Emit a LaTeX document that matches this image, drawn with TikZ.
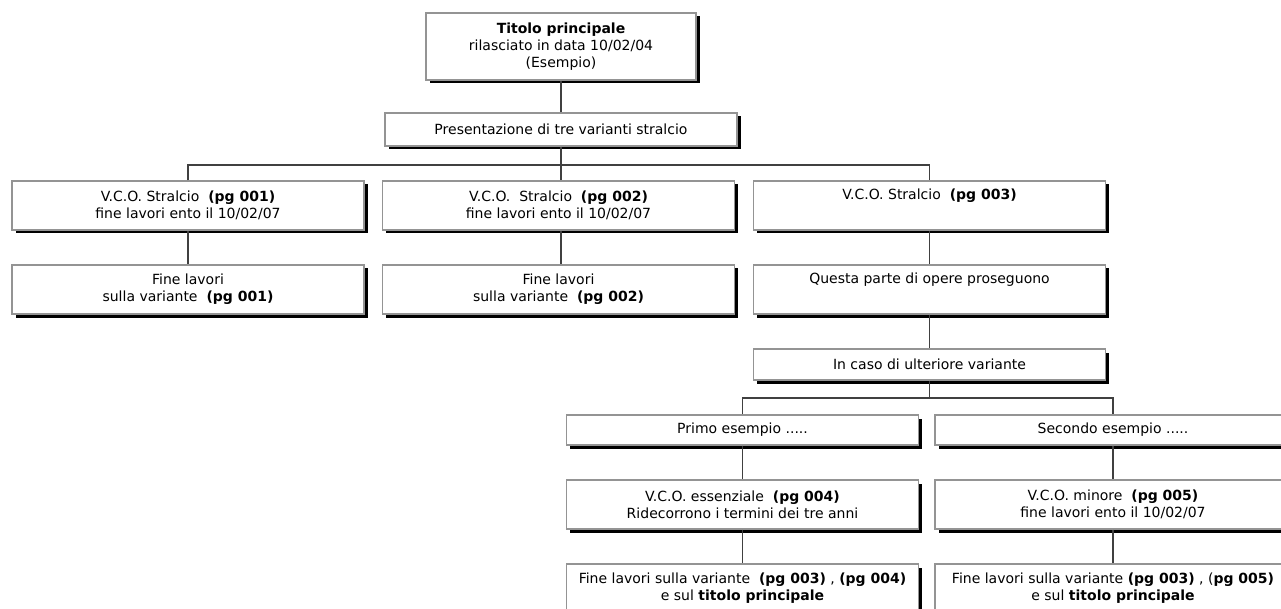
\documentclass[tikz,border=0pt]{standalone}
\usepackage{fontspec}
\setmainfont{DejaVu Sans}
\usetikzlibrary{shadows}

\begin{document}
\begin{tikzpicture}[x=1pt,y=-1pt,
    box/.style={draw=black!42, line width=1.3pt, fill=white, align=center,
        inner sep=0pt, minimum width=352pt, minimum height=49pt,
        font=\fontsize{14}{17}\selectfont,
        drop shadow={shadow xshift=3.5pt, shadow yshift=-3.5pt, fill=black, opacity=1}},
    lowbox/.style={box, minimum height=31pt},
    link/.style={draw=black!75, line width=1.5pt}]
            \clip (0,0) rectangle (1281,609);

            \node[box, minimum width=270pt, minimum height=67pt] (T) at (561,46.5) {\textbf{Titolo principale}\\rilasciato in data 10/02/04\\(Esempio)};
            \node[lowbox, minimum height=33pt] (P) at (561,129.5) {Presentazione di tre varianti stralcio};

            \node[box] (S1) at (188,205.5) {V.C.O. Stralcio\ \ \textbf{(pg 001)}\\fine lavori ento il 10/02/07};
            \node[box] (S2) at (558.5,205.5) {V.C.O.\ \ Stralcio\ \ \textbf{(pg 002)}\\fine lavori ento il 10/02/07};
            \node[box] (S3) at (929.5,205.5) {V.C.O. Stralcio\ \ \textbf{(pg 003)}\\\strut};

            \node[box] (F1) at (188,289.5) {Fine lavori\\sulla variante\ \ \textbf{(pg 001)}};
            \node[box] (F2) at (558.5,289.5) {Fine lavori\\sulla variante\ \ \textbf{(pg 002)}};
            \node[box] (Q) at (929.5,289.5) {Questa parte di opere proseguono\\\strut};

            \node[lowbox] (C) at (929.5,364.5) {In caso di ulteriore variante};

            \node[lowbox, minimum height=30pt] (E1) at (742.5,430) {Primo esempio .....};
            \node[lowbox, minimum height=30pt, minimum width=356pt] (E2) at (1113,430) {Secondo esempio .....};

            \node[box] (V4) at (742.5,504.5) {V.C.O. essenziale\ \ \textbf{(pg 004)}\\Ridecorrono i termini dei tre anni};
            \node[box, minimum width=356pt] (V5) at (1113,504.5) {V.C.O. minore\ \ \textbf{(pg 005)}\\fine lavori ento il 10/02/07};

            \node[box] (G4) at (742.5,588.5) {Fine lavori sulla variante\ \ \textbf{(pg 003)} , \textbf{(pg 004)}\\e sul \textbf{titolo principale}};
            \node[box, minimum width=356pt] (G5) at (1113,588.5) {Fine lavori sulla variante \textbf{(pg 003)} , (\textbf{pg 005)}\\e sul \textbf{titolo principale}};

            \coordinate (B1) at (561,165);
            \coordinate (B2) at (929.5,398);

            \draw[link] (T) -- (P);
            \draw[link] (P) -- (B1);
            \draw[link] (S1.north) |- (B1) -| (S3.north);
            \draw[link] (B1) -- (B1 |- S2.north);
            \draw[link] (S1) -- (F1);
            \draw[link] (S2.south -| B1) -- (F2.north -| B1);
            \draw[link] (S3) -- (Q);
            \draw[link] (Q) -- (C);
            \draw[link] (C) -- (B2);
            \draw[link] (E1.north) |- (B2) -| (E2.north);
            \draw[link] (E1) -- (V4);
            \draw[link] (V4) -- (G4);
            \draw[link] (E2) -- (V5);
            \draw[link] (V5) -- (G5);
        \end{tikzpicture}
\end{document}
